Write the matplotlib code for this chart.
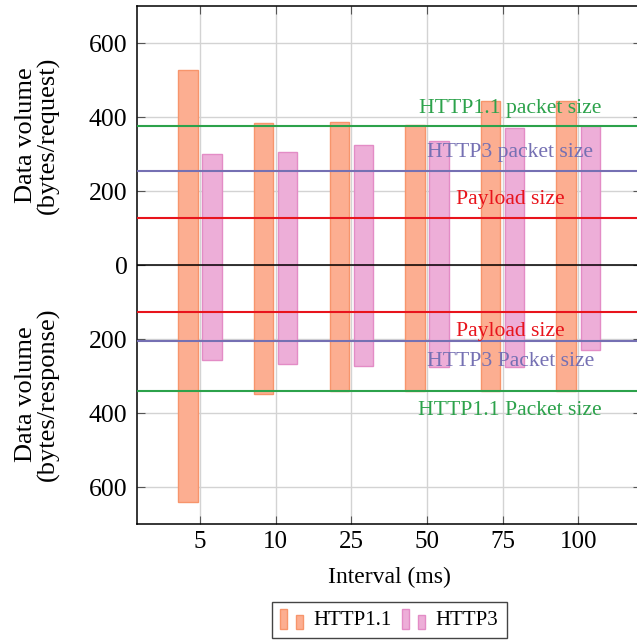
import numpy as np
import matplotlib.pyplot as plt
from matplotlib.patches import Rectangle
from matplotlib.legend_handler import HandlerBase
from matplotlib.ticker import FuncFormatter

plt.rcParams['font.family'] = ['Liberation Serif', 'DejaVu Serif']
plt.rcParams['font.size'] = 17

# Datos
intervalos = ["5", "10", "25", "50", "75", "100"]
http11_req = [528, 385, 387, 379, 445, 445]
http3_req = [301, 307, 325, 335, 371, 376]
http11_resp = [641, 348, 340, 340, 340, 340]
http3_resp = [256, 266, 273, 276, 276, 229]

# Lineas de referencia (peticion / respuesta)
payload_req, payload_resp = 128, 127
h3_pkt_req, h3_pkt_resp = 254, 205
h11_pkt_req, h11_pkt_resp = 378, 341

col_h11, edge_h11 = "#fcae91", "#f7956c"
col_h3, edge_h3 = "#edaed8", "#e38cc6"
verde, morado, rojo = "#2ca24b", "#7570b3", "#e8141c"

fig = plt.figure(figsize=(6.37, 6.43), dpi=100)
ax = fig.add_axes([0.2155, 0.185, 0.7908, 0.8049])

x = np.arange(len(intervalos))
off, w = 0.159, 0.257
ax.bar(x - off, http11_req, w, color=col_h11, edgecolor=edge_h11, linewidth=1, zorder=2)
ax.bar(x + off, http3_req, w, color=col_h3, edgecolor=edge_h3, linewidth=1, zorder=2)
ax.bar(x - off, -np.array(http11_resp), w, color=col_h11, edgecolor=edge_h11, linewidth=1, zorder=2)
ax.bar(x + off, -np.array(http3_resp), w, color=col_h3, edgecolor=edge_h3, linewidth=1, zorder=2)

ax.axhline(0, color="black", lw=1.1, zorder=3)
ax.axhline(h11_pkt_req, color=verde, lw=1.5, zorder=3)
ax.axhline(h3_pkt_req, color=morado, lw=1.5, zorder=3)
ax.axhline(payload_req, color=rojo, lw=1.5, zorder=3)
ax.axhline(-payload_resp, color=rojo, lw=1.5, zorder=3)
ax.axhline(-h3_pkt_resp, color=morado, lw=1.5, zorder=3)
ax.axhline(-h11_pkt_resp, color=verde, lw=1.5, zorder=3)

tx = 4.1
fs = 15.6
ax.text(tx, h11_pkt_req + 47, "HTTP1.1 packet size", color=verde, ha="center", va="center", fontsize=fs, zorder=4)
ax.text(tx, 306, "HTTP3 packet size", color=morado, ha="center", va="center", fontsize=fs, zorder=4)
ax.text(tx, 177, "Payload size", color=rojo, ha="center", va="center", fontsize=fs, zorder=4)
ax.text(tx, -178, "Payload size", color=rojo, ha="center", va="center", fontsize=fs, zorder=4)
ax.text(tx, -260, "HTTP3 Packet size", color=morado, ha="center", va="center", fontsize=fs, zorder=4)
ax.text(tx, -393, "HTTP1.1 Packet size", color=verde, ha="center", va="center", fontsize=fs, zorder=4)

ax.set_xlim(-0.83, 5.83)
ax.set_ylim(-700, 700)
ax.set_xticks(x)
ax.set_xticklabels(intervalos)
ax.set_yticks([-600, -400, -200, 0, 200, 400, 600])
ax.yaxis.set_major_formatter(FuncFormatter(lambda v, p: f"{abs(int(v))}"))
ax.tick_params(direction="in", length=6, color="#555555", top=True, right=True)
ax.tick_params(axis="x", labelsize=18, pad=5)
ax.tick_params(axis="y", labelsize=18.5, pad=7)
ax.grid(True, color="#d3d3d3", lw=1, zorder=0)
ax.set_axisbelow(True)
for s in ax.spines.values():
    s.set_linewidth(1.1)

ax.set_xlabel("Interval (ms)", fontsize=17, labelpad=10)

fig.text(0.059, 0.790, "Data volume\n(bytes/request)", rotation=90, ha="center", va="center",
         linespacing=0.95, fontsize=19)
fig.text(0.059, 0.387, "Data volume\n(bytes/response)", rotation=90, ha="center", va="center",
         linespacing=0.95, fontsize=19)


class HandlerBarras(HandlerBase):
    def __init__(self, fc, ec):
        super().__init__()
        self.fc, self.ec = fc, ec

    def create_artists(self, legend, orig, xd, yd, width, height, fontsize, trans):
        bw = width * 0.25
        r1 = Rectangle((xd, yd - height * 0.3), bw, height * 1.4, fc=self.fc, ec=self.ec, lw=1, transform=trans)
        r2 = Rectangle((xd + width * 0.6, yd - height * 0.3), bw, height * 1.0, fc=self.fc, ec=self.ec, lw=1, transform=trans)
        return [r1, r2]


h1 = Rectangle((0, 0), 1, 1)
h2 = Rectangle((0, 0), 1, 1)
leg = fig.legend([h1, h2], ["HTTP1.1", "HTTP3"], loc="center", bbox_to_anchor=(0.611, 0.0355),
                 ncol=2, fancybox=False, edgecolor="#444444", framealpha=1, fontsize=15,
                 handlelength=1.3, handletextpad=0.3, columnspacing=0.5, borderpad=0.4,
                 handler_map={h1: HandlerBarras(col_h11, edge_h11), h2: HandlerBarras(col_h3, edge_h3)})
leg.get_frame().set_linewidth(1.0)

fig.savefig("out.png", dpi=100)
